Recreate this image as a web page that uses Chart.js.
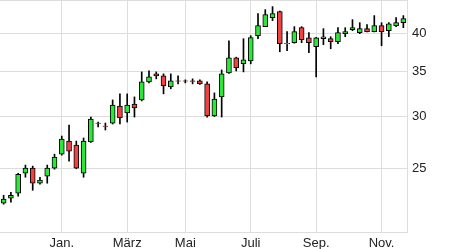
<!DOCTYPE html>
<html lang="de">
<head>
    <meta charset="UTF-8">
    <title>Kursverlauf</title>
    <script src="https://cdn.jsdelivr.net/npm/chart.js"></script>
    <style>
        html, body { margin: 0; padding: 0; background: #fff; }
        #wrap { width: 465px; height: 249px; }
    </style>
</head>
<body>

<div id="wrap">
    <canvas id="kursChart" width="465" height="249"></canvas>
</div>

<script>
    // Wochenkerzen (Eröffnung, Hoch, Tief, Schluss)
    const open  = [22.12,22.51,22.90,24.56,25.00,23.72,24.31,25.00,26.25,27.48,
                   27.10,24.56,27.39,29.27,28.97,29.27,31.07,30.32,31.29,31.73,
                   33.80,34.76,34.52,33.22,33.92,33.92,33.92,33.92,33.57,30.00,
                   32.07,34.88,36.77,36.01,36.38,39.72,41.00,42.30,43.21,38.62,
                   38.76,40.85,39.44,38.22,39.31,39.31,38.89,40.00,40.57,40.14,
                   40.71,40.28,41.14,40.42,41.14,41.57];
    const high  = [22.74,22.98,24.56,25.27,25.18,24.22,25.27,26.25,27.97,29.07,
                   27.48,27.78,29.89,29.37,29.27,31.73,32.41,32.41,32.07,35.00,
                   35.12,35.00,34.76,34.76,34.52,34.04,34.16,34.04,33.80,32.52,
                   35.24,39.03,36.85,39.31,39.72,42.91,43.51,43.97,43.30,40.28,
                   41.00,41.00,40.14,39.50,40.71,39.58,40.85,40.85,42.01,41.57,
                   41.28,42.61,41.57,41.57,42.31,42.61];
    const low   = [22.04,22.19,22.66,24.22,23.14,23.63,23.72,24.91,26.16,25.62,
                   24.95,24.22,27.35,28.87,28.57,29.17,29.17,29.37,29.89,31.62,
                   33.68,34.16,32.41,32.99,33.57,33.68,33.57,33.50,29.89,29.95,
                   29.89,34.80,35.12,35.00,36.00,39.31,41.00,41.87,37.55,37.69,
                   38.70,38.76,37.42,34.40,38.49,37.95,38.62,39.58,40.42,40.00,
                   40.25,40.25,38.35,39.58,41.00,40.85];
    const close = [22.43,22.74,24.47,25.00,23.72,23.97,25.00,25.98,27.68,26.54,
                   25.00,27.48,29.68,29.22,28.93,31.18,29.79,31.18,30.86,33.80,
                   34.40,34.52,33.33,33.92,33.88,33.88,33.86,33.57,30.00,31.84,
                   34.76,36.77,35.50,36.51,39.45,41.14,42.76,42.91,38.62,38.66,
                   40.28,39.17,38.76,39.44,39.58,38.89,40.14,40.28,40.85,40.71,
                   40.28,41.14,40.28,41.42,41.57,42.16];

    // Monatsbeschriftung an der Woche, in die der Monatserste fällt
    const monthWeek  = [8, 17, 25, 34, 43, 52];
    const monthNames = ['Jan.', 'März', 'Mai', 'Juli', 'Sep.', 'Nov.'];

    const yTicks = [25, 30, 35, 40];

    const weeks = open.map((_, i) => 'W' + (i + 1));
    const wicks = low.map((l, i) => [l, high[i]]);
    const bodies = open.map((o, i) => [o, close[i]]);
    const bodyColors = open.map((o, i) => close[i] >= o ? '#2ee63a' : '#ef4343');

    const gridColor = '#dddddd';

    const ctx = document.getElementById('kursChart').getContext('2d');
    new Chart(ctx, {
        type: 'bar',
        data: {
            labels: weeks,
            datasets: [{
                data: wicks,
                backgroundColor: '#000',
                barThickness: 1,
                grouped: false,
                order: 2
            }, {
                data: bodies,
                backgroundColor: bodyColors,
                borderColor: '#000',
                borderWidth: 1,
                borderSkipped: false,
                barThickness: 5,
                grouped: false,
                order: 1
            }]
        },
        options: {
            responsive: false,
            animation: false,
            layout: { padding: 0 },
            plugins: {
                legend: { display: false },
                tooltip: { enabled: false }
            },
            scales: {
                x: {
                    grid: {
                        color: gridColor,
                        offset: false,
                        drawTicks: false
                    },
                    border: { color: gridColor },
                    ticks: {
                        autoSkip: false,
                        maxRotation: 0,
                        padding: 4,
                        color: '#222',
                        font: { family: 'Liberation Sans', size: 13 },
                        callback: (val, i) => {
                            const k = monthWeek.indexOf(i);
                            return k >= 0 ? monthNames[k] : null;
                        }
                    },
                    afterFit: scale => {
                        scale.height = 17;
                        scale.paddingLeft = 0;
                        scale.paddingRight = 0;
                    }
                },
                xTop: {
                    type: 'category',
                    position: 'top',
                    grid: { display: false, drawTicks: false },
                    border: { color: gridColor },
                    ticks: { display: false },
                    afterFit: scale => { scale.height = 0; }
                },
                y: {
                    type: 'logarithmic',
                    position: 'right',
                    min: 20,
                    max: 45,
                    grid: { color: gridColor, drawTicks: false },
                    border: { color: gridColor },
                    ticks: {
                        autoSkip: false,
                        padding: 5,
                        color: '#222',
                        font: { family: 'Liberation Sans', size: 13 },
                        callback: v => String(v)
                    },
                    afterBuildTicks: scale => {
                        scale.ticks = yTicks.map(v => ({ value: v }));
                    },
                    afterFit: scale => {
                        scale.width = 58;
                        scale.paddingTop = 0;
                        scale.paddingBottom = 0;
                    }
                }
            }
        }
    });
</script>

</body>
</html>
